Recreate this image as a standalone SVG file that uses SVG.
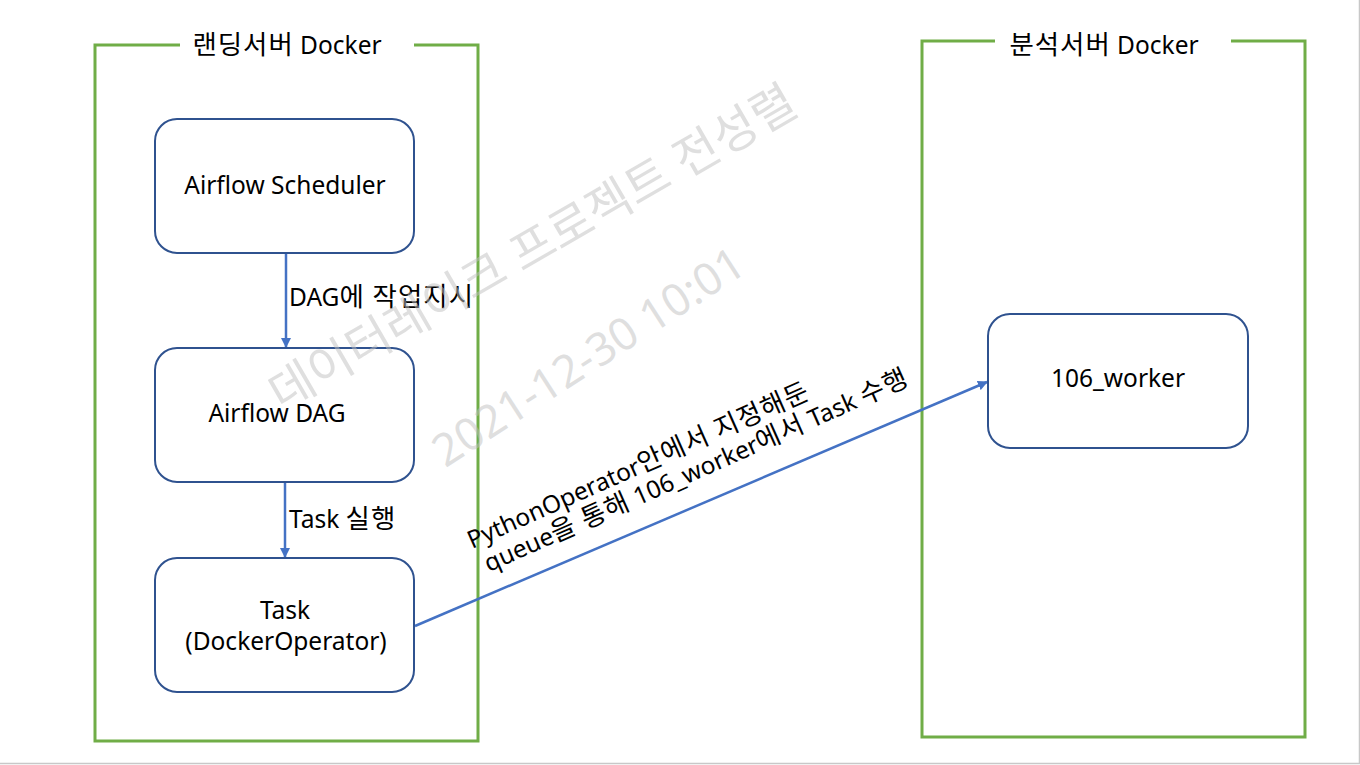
<svg xmlns="http://www.w3.org/2000/svg" width="1360" height="765" viewBox="0 0 1360 765">
<defs>
<style>
.cont{fill:none;stroke:#70AD47;stroke-width:3}
.node{fill:#FFFFFF;stroke:#2F528F;stroke-width:2}
.t{font-family:"Noto Sans","Noto Sans CJK KR",sans-serif;fill:#000000}
.k{font-size:1.08em;letter-spacing:1px}
.conn{fill:none;stroke:#4472C4;stroke-width:2.5}
.wm{font-family:"Noto Sans","Noto Sans CJK KR",sans-serif;fill:#BFBFBF;fill-opacity:0.5}
</style>
<marker id="ah" viewBox="0 0 10 10" refX="9" refY="5" markerWidth="4" markerHeight="4" orient="auto" markerUnits="strokeWidth">
<path d="M0,0 L10,5 L0,10 z" fill="#4472C4"/>
</marker>
</defs>
<rect x="0" y="0" width="1360" height="765" fill="#FFFFFF"/>
<path d="M0,763.5 H1359.5 V0" fill="none" stroke="#C8C8C8" stroke-width="1.5"/>

<g id="landing-container">
<path class="cont" d="M180,45 H95 V741 H478 V45 H414"/>
<text class="t" x="287" y="54" font-size="24.5" text-anchor="middle"><tspan class="k">랜딩서버</tspan> Docker</text>
</g>
<g id="analysis-container">
<path class="cont" d="M995,41 H922 V737 H1305 V41 H1231"/>
<text class="t" x="1104" y="54" font-size="24.5" text-anchor="middle"><tspan class="k">분석서버</tspan> Docker</text>
</g>

<g id="connectors">
<line class="conn" x1="286" y1="253" x2="286" y2="347" marker-end="url(#ah)"/>
<text class="t" x="289" y="306" font-size="24.5">DAG<tspan class="k">에 작업지시</tspan></text>
<line class="conn" x1="285" y1="482" x2="285" y2="557" marker-end="url(#ah)"/>
<text class="t" x="289" y="528" font-size="24.5">Task <tspan class="k">실행</tspan></text>
<line class="conn" x1="415" y1="626" x2="987" y2="382" marker-end="url(#ah)"/>
<g transform="translate(472,549) rotate(-24)">
<text class="t" x="0" y="0" font-size="24.5">PythonOperator<tspan class="k">안에서 지정해둔</tspan></text>
<text class="t" x="6" y="28" font-size="24.5">queue<tspan class="k">을 통해</tspan> 106_worker<tspan class="k">에서</tspan> Task <tspan class="k">수행</tspan></text>
</g>
</g>

<g id="airflow-scheduler">
<rect class="node" x="155" y="119" width="259" height="134" rx="22"/>
<text class="t" x="285" y="194" font-size="24.5" text-anchor="middle">Airflow Scheduler</text>
</g>
<g id="airflow-dag">
<rect class="node" x="155" y="348" width="259" height="134" rx="22"/>
<text class="t" x="277" y="422" font-size="24.5" text-anchor="middle">Airflow DAG</text>
</g>
<g id="task">
<rect class="node" x="155" y="558" width="259" height="134" rx="22"/>
<text class="t" x="285" y="619" font-size="24.5" text-anchor="middle">Task</text>
<text class="t" x="286" y="650" font-size="24.5" text-anchor="middle">(DockerOperator)</text>
</g>
<g id="worker-106">
<rect class="node" x="988" y="314" width="260" height="134" rx="22"/>
<text class="t" x="1118" y="387" font-size="24.5" text-anchor="middle">106_worker</text>
</g>

<g id="watermark">
<text class="wm" font-size="48" transform="translate(541,262) rotate(-30)" text-anchor="middle">데이터레이크 프로젝트 전성렬</text>
<text class="wm" font-size="45" transform="translate(597,370) rotate(-33)" text-anchor="middle">2021-12-30 10:01</text>
</g>
</svg>
